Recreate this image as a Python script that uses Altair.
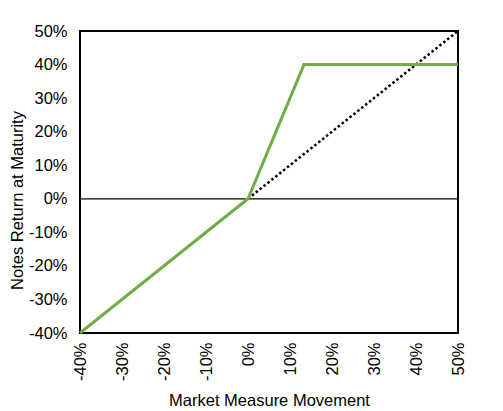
import altair as alt
import pandas as pd

# Notes payoff (green): market movement vs notes return
note_x = [-0.40, 0.0, 0.1333, 0.50]
note_y = [-0.40, 0.0, 0.40, 0.40]
# Market measure (dotted) reference line
mkt_x = [0.0, 0.50]
mkt_y = [0.0, 0.50]
ticks = [-0.4, -0.3, -0.2, -0.1, 0.0, 0.1, 0.2, 0.3, 0.4, 0.5]

notes = pd.DataFrame({"x": note_x, "y": note_y})
mkt = pd.DataFrame({"x": mkt_x, "y": mkt_y})

FONT = "Liberation Sans"
FS = 16.5
xs = alt.Scale(domain=[-0.4, 0.5], nice=False)
ys = alt.Scale(domain=[-0.4, 0.5], nice=False)
LBL = "replace(format(datum.value, '.0%'), '\u2212', '-')"

xax = alt.Axis(values=ticks, labelExpr=LBL, labelAngle=270, title="Market Measure Movement",
               ticks=False, domain=False, grid=False, labelPadding=9, titlePadding=12,
               labelFont=FONT, titleFont=FONT, labelFontSize=FS, titleFontSize=FS,
               labelColor="black", titleColor="black", titleFontWeight="normal",
               labelAlign="right", labelBaseline="middle")
yax = alt.Axis(values=ticks, labelExpr=LBL, title="Notes Return at Maturity",
               ticks=False, domain=False, grid=False, labelPadding=13,
               titleX=-55, titleY=169,
               labelFont=FONT, titleFont=FONT, labelFontSize=FS, titleFontSize=FS,
               labelColor="black", titleColor="black", titleFontWeight="normal")

zero = alt.Chart(pd.DataFrame({"y": [0.0]})).mark_rule(color="black", strokeWidth=1.2).encode(
    y=alt.Y("y:Q", scale=ys, axis=yax))

dotted = alt.Chart(mkt).mark_line(color="black", strokeWidth=2.5, strokeDash=[2.5, 2.5],
                                   strokeCap="butt").encode(
    x=alt.X("x:Q", scale=xs, axis=xax),
    y=alt.Y("y:Q", scale=ys, axis=yax))

green = alt.Chart(notes).mark_line(color="#70AD47", strokeWidth=3).encode(
    x=alt.X("x:Q", scale=xs, axis=xax),
    y=alt.Y("y:Q", scale=ys, axis=yax))

chart = alt.layer(zero, dotted, green).properties(
    width=378, height=302,
    autosize=alt.AutoSizeParams(type="none"),
    padding={"left": 72, "top": 23, "right": 37, "bottom": 78},
    background="white",
).configure_view(stroke="black", strokeWidth=2)

chart.save("out.html", embed_options={"renderer": "svg", "actions": False})
